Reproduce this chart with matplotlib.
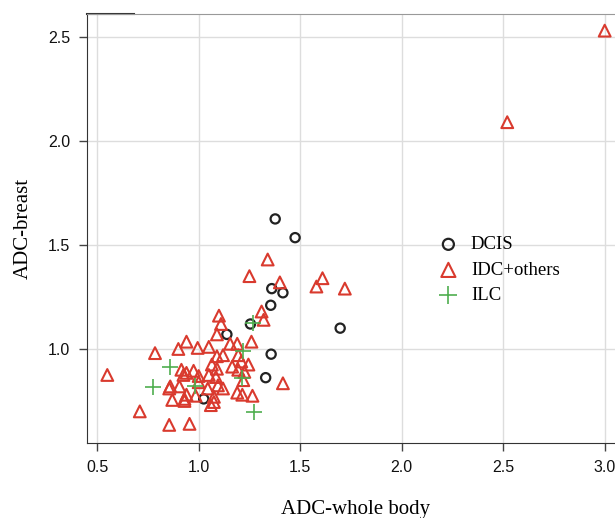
import matplotlib
matplotlib.use("Agg")
import matplotlib.pyplot as plt

# DCIS (circles)
dcis_x = [1.377, 1.475, 1.36, 1.415, 1.355, 1.255, 1.697, 1.139, 1.357, 1.33, 1.025]
dcis_y = [1.625, 1.535, 1.29, 1.27, 1.21, 1.12, 1.10, 1.07, 0.975, 0.862, 0.76]

# IDC+others (triangles)
idc_x = [1.34, 1.25, 1.40, 1.61, 1.58, 1.72, 1.31, 1.32, 1.10, 1.11,
         1.09, 0.94, 0.90, 0.785, 0.995, 1.05, 1.155, 1.19, 1.26, 1.09,
         1.12, 1.195, 1.21, 1.245, 1.065, 1.09, 1.165, 1.195, 1.05, 1.085,
         1.22, 0.915, 0.94, 0.975, 0.925, 1.00, 1.00, 0.86, 0.855, 0.905,
         1.045, 1.095, 1.12, 1.19, 1.215, 1.265, 1.075, 0.985, 0.87, 0.93,
         0.93, 1.06, 1.075, 1.415, 0.71, 0.855, 0.955, 0.55, 1.225, 0.94,
         2.52, 3.0]
idc_y = [1.43, 1.35, 1.32, 1.34, 1.30, 1.29, 1.18, 1.14, 1.16, 1.12,
         1.07, 1.035, 1.00, 0.98, 1.005, 1.01, 1.025, 1.025, 1.035, 0.965,
         0.97, 0.97, 0.94, 0.925, 0.925, 0.905, 0.915, 0.90, 0.875, 0.865,
         0.85, 0.90, 0.885, 0.895, 0.875, 0.87, 0.84, 0.82, 0.81, 0.82,
         0.81, 0.825, 0.81, 0.79, 0.78, 0.775, 0.77, 0.775, 0.755, 0.76,
         0.75, 0.73, 0.745, 0.835, 0.70, 0.635, 0.64, 0.875, 0.89, 0.78,
         2.09, 2.53]

# ILC (plus)
ilc_x = [0.86, 0.776, 0.983, 1.219, 1.214, 1.273, 1.268]
ilc_y = [0.913, 0.817, 0.822, 0.99, 0.86, 0.697, 1.125]

xticks = [0.5, 1.0, 1.5, 2.0, 2.5, 3.0]
yticks = [1.0, 1.5, 2.0, 2.5]

fig = plt.figure(figsize=(6.15, 5.18), dpi=100)
ax = fig.add_axes([87/615, 75/518, 538/615, 429/518])

ax.scatter(dcis_x, dcis_y, marker="o", s=44, facecolors="none",
           edgecolors="#222222", linewidths=1.6, label="DCIS", zorder=3)
ax.scatter(idc_x, idc_y, marker="^", s=72, facecolors="none",
           edgecolors="#d93a2e", linewidths=1.5, label="IDC+others", zorder=3)
ax.scatter(ilc_x, ilc_y, marker="+", s=120, color="#4fae4f",
           linewidths=1.2, label="ILC", zorder=3)

ax.set_xlim(0.45, 3.1)
ax.set_ylim(0.548, 2.61)
ax.set_xticks(xticks)
ax.set_xticklabels([f"{v:.1f}" for v in xticks])
ax.set_yticks(yticks)
ax.set_yticklabels([f"{v:.1f}" for v in yticks])
ax.grid(True, color="#dddddd", linewidth=1.0, zorder=0)
ax.set_axisbelow(True)

ax.tick_params(direction="out", length=6, width=1, pad=6, color="#444444",
               labelsize=11.5, labelcolor="#111111")
for lab in ax.get_xticklabels() + ax.get_yticklabels():
    lab.set_family("Liberation Sans")

ax.spines["left"].set_color("#333333")
ax.spines["bottom"].set_color("#333333")
ax.spines["top"].set_color("#999999")
ax.spines["right"].set_visible(False)
ax.plot([0, 0.088], [1, 1], transform=ax.transAxes, color="#333333",
        linewidth=1.5, clip_on=False)

ax.set_xlabel("ADC-whole body", family="Liberation Serif", fontsize=15,
              labelpad=18)
ax.set_ylabel("ADC-breast", family="Liberation Serif", fontsize=15,
              labelpad=11)

leg = ax.legend(loc="upper left", bbox_to_anchor=(424/615, 1 - 223/518),
                bbox_transform=fig.transFigure, frameon=False,
                prop={"family": "Liberation Serif", "size": 13.5},
                handletextpad=0.6, labelspacing=0.45, borderpad=0.2,
                handlelength=1.2, markerscale=1.2)

fig.savefig("out.png", dpi=100)
